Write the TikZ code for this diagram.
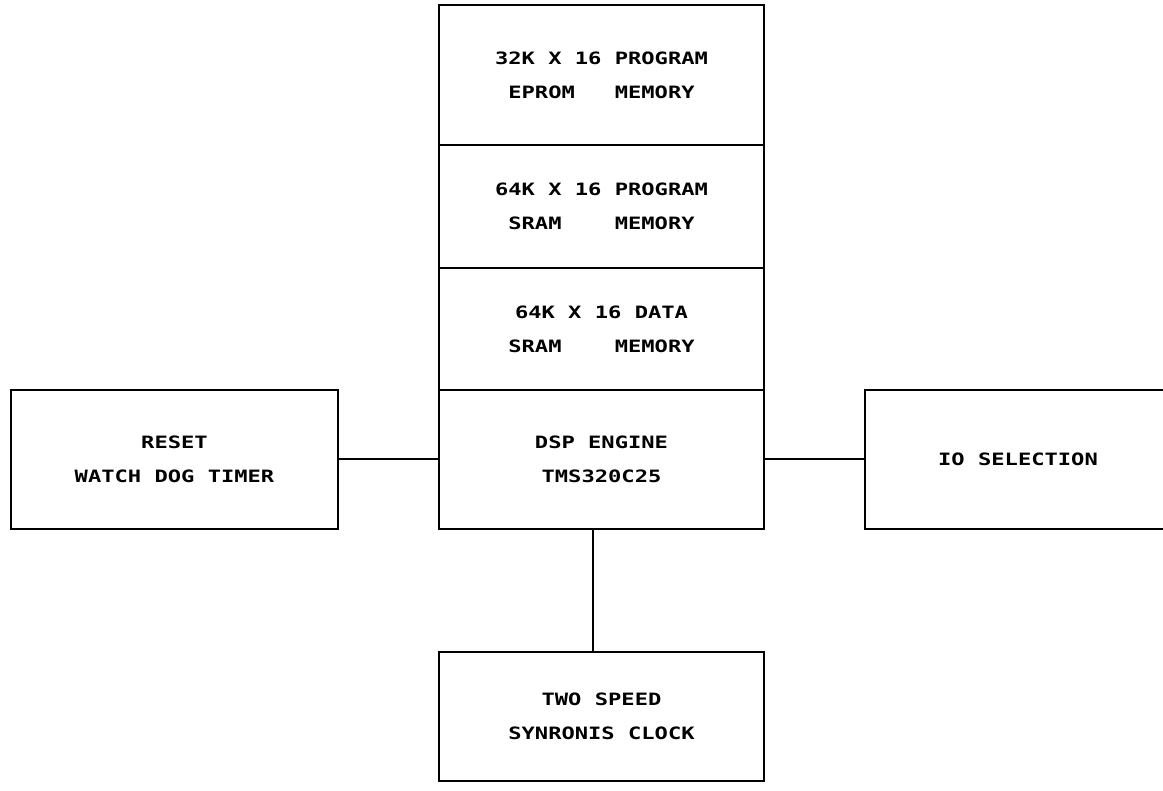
\documentclass[tikz,border=0pt]{standalone}
\usepackage{fontspec}
\newfontfamily\plotfont[FakeStretch=1.3]{DejaVu Sans Mono}
\usetikzlibrary{positioning}
\tikzset{
  blk/.style  = {rectangle, draw=black, line width=1pt, outer sep=0pt,
                 minimum width=162.5pt, align=center,
                 font=\plotfont\bfseries\fontsize{8.5}{17}\selectfont},
  link/.style = {line width=1pt, draw=black}
}

\begin{document}
\begin{tikzpicture}[x=0.5pt,y=-0.5pt]
  \useasboundingbox (0,0) rectangle (1163,791);
  % memory stack above the DSP
  \node[blk, minimum height=70pt] (eprom) at (601.5,75) {32K X 16 PROGRAM\\EPROM\ \ \ MEMORY};
  \node[blk, minimum height=61.5pt, below=0pt of eprom] (psram) {64K X 16 PROGRAM\\SRAM\ \ \ \ MEMORY};
  \node[blk, minimum height=61pt, below=0pt of psram]   (dsram) {64K X 16 DATA\\SRAM\ \ \ \ MEMORY};
  \node[blk, minimum height=69.5pt, below=0pt of dsram] (dsp)   {DSP ENGINE\\TMS320C25};
  % side and bottom blocks
  \node[blk, minimum width=163.5pt, minimum height=69.5pt, left=50.5pt of dsp] (wdt) {RESET\\WATCH DOG TIMER};
  \node[blk, minimum width=153pt, minimum height=69pt, right=50.5pt of dsp]    (io)  {IO SELECTION};
  \node[blk, minimum height=64.5pt, below=61.5pt of dsp] (clk) {TWO SPEED\\SYNRONIS CLOCK};
  \foreach \a/\b in {wdt/dsp,dsp/io}
    \draw[link] (\a) -- (\b);
  \draw[link] ([xshift=-4.25pt]dsp.south) -- ([xshift=-4.25pt]clk.north);
\end{tikzpicture}
\end{document}
